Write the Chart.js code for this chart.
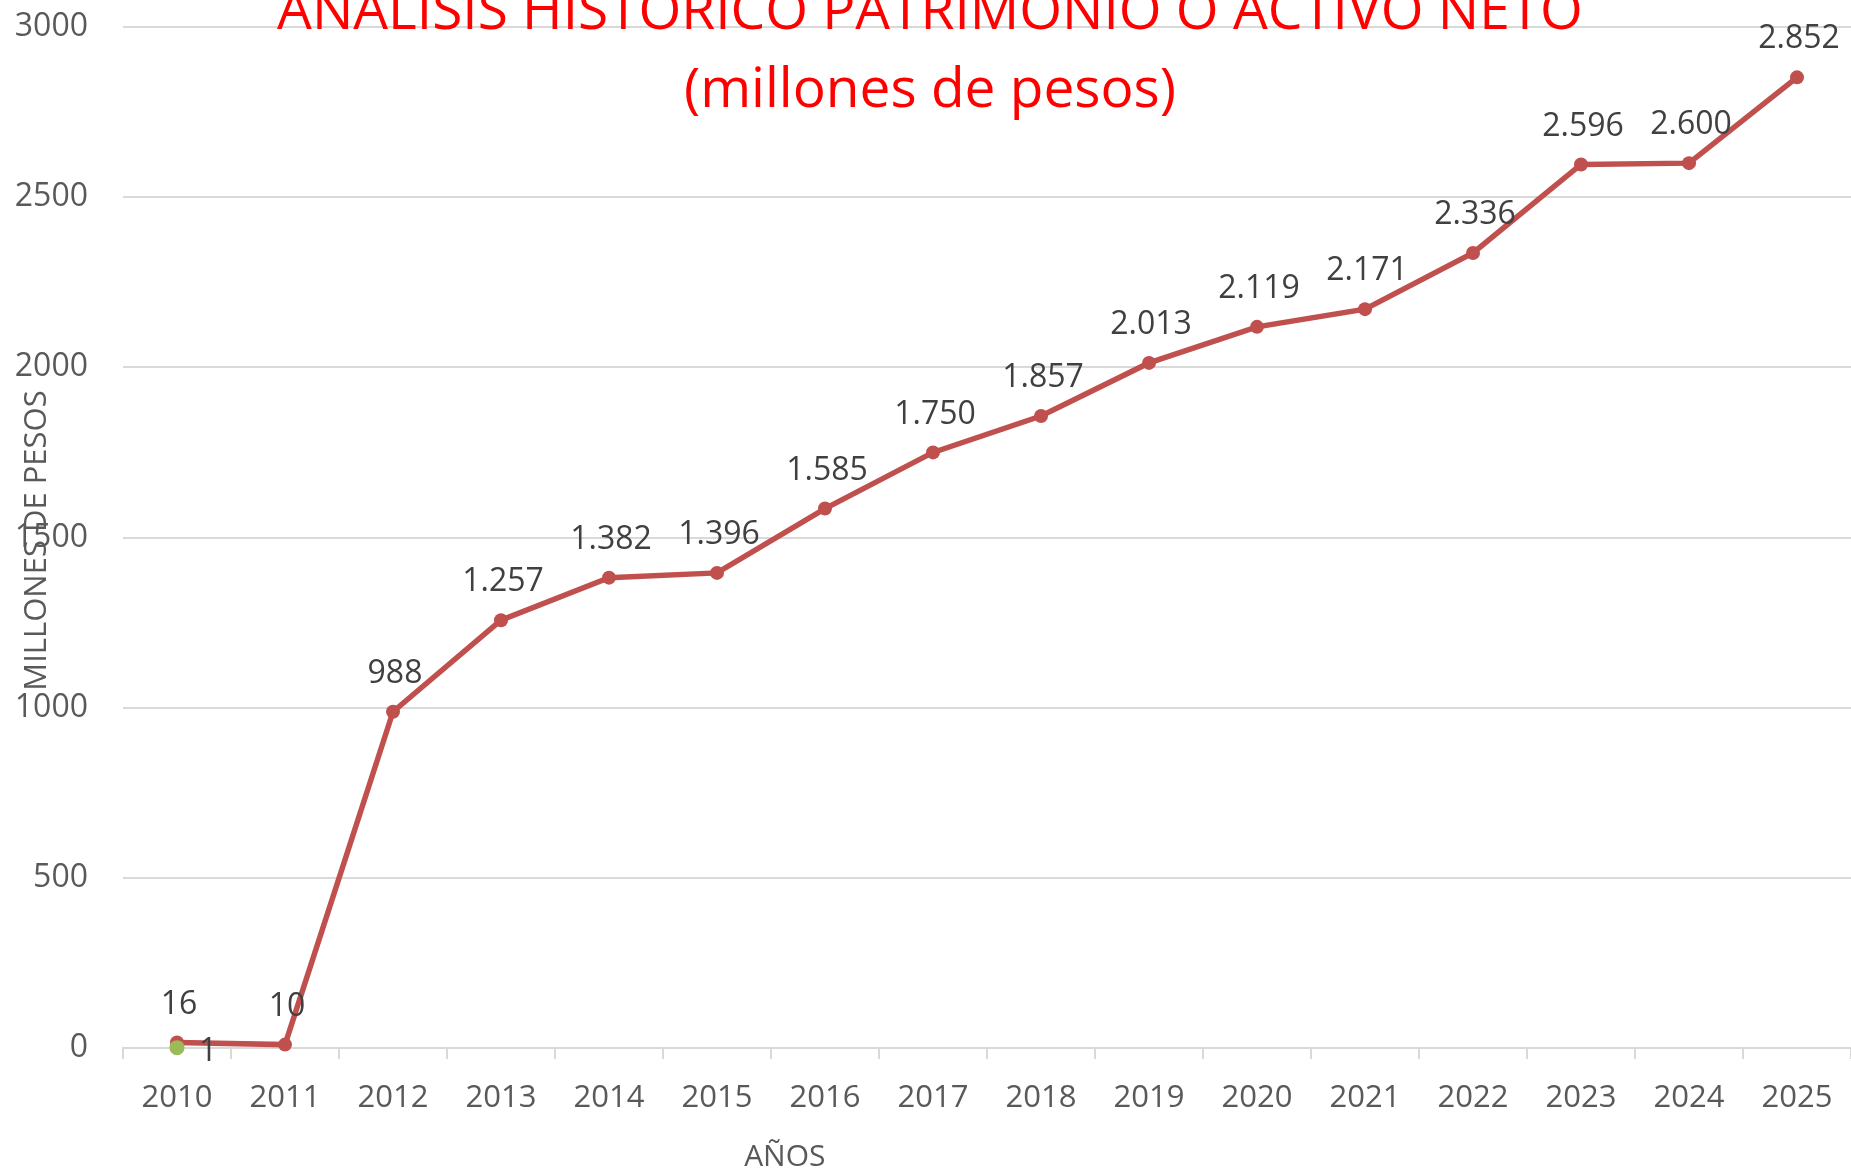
<!DOCTYPE html>
<html>
<head>
<meta charset="utf-8">
<script src="https://cdn.jsdelivr.net/npm/chart.js@4.4.1/dist/chart.umd.min.js"></script>
<style>
  html, body { margin: 0; padding: 0; background: #fff; overflow: hidden; }
  #wrap { width: 1851px; height: 1172px; position: relative; }
</style>
</head>
<body>
<div id="wrap"><canvas id="patrimonio-chart"></canvas></div>
<script>
// datos
const years = ['2010', '2011', '2012', '2013', '2014', '2015', '2016', '2017',
  '2018', '2019', '2020', '2021', '2022', '2023', '2024', '2025'];
const patrimonio = [16, 10, 988, 1257, 1382, 1396, 1585, 1750, 1857, 2013,
  2119, 2171, 2336, 2596, 2600, 2852];
const inicial = [1, null, null, null, null, null, null, null, null, null,
  null, null, null, null, null, null];
const yTicks = [0, 500, 1000, 1500, 2000, 2500, 3000];

const titleLines = ['ANALISIS HISTORICO PATRIMONIO O ACTIVO NETO', '(millones de pesos)'];
const xTitle = 'AÑOS';
const yTitle = 'MILLONES DE PESOS';

const FONT = "'Open Sans', 'Noto Sans', sans-serif";

// 2.852 style
function fmt(v) {
  return String(v).replace(/\B(?=(\d{3})+(?!\d))/g, '.');
}

// titulo, ejes y etiquetas de datos
const textPlugin = {
  id: 'textPlugin',
  afterDatasetsDraw(chart) {
    const ctx = chart.ctx;
    ctx.save();
    ctx.font = '32px ' + FONT;
    ctx.fillStyle = '#404040';
    // serie principal: encima del punto
    chart.getDatasetMeta(0).data.forEach((pt, i) => {
      ctx.textAlign = 'center';
      ctx.textBaseline = 'middle';
      ctx.fillText(fmt(patrimonio[i]), pt.x + 2, pt.y - 38);
    });
    // punto verde: a la derecha
    chart.getDatasetMeta(1).data.forEach((pt, i) => {
      if (inicial[i] == null) return;
      ctx.textAlign = 'left';
      ctx.textBaseline = 'middle';
      ctx.fillText(fmt(inicial[i]), pt.x + 22, pt.y + 4);
    });
    ctx.restore();
  },
  afterDraw(chart) {
    const ctx = chart.ctx;
    const area = chart.chartArea;
    ctx.save();
    // titulo (cortado arriba como en el original)
    ctx.font = '55px ' + FONT;
    ctx.fillStyle = '#FF0000';
    ctx.textAlign = 'center';
    ctx.textBaseline = 'alphabetic';
    ctx.fillText(titleLines[0], 930, area.top + 2);
    ctx.fillText(titleLines[1], 930, area.top + 80);

    ctx.font = '30px ' + FONT;
    ctx.fillStyle = '#595959';
    ctx.textBaseline = 'middle';
    ctx.fillText(xTitle, area.left + (area.right - area.left) * 0.383, 1157);

    ctx.translate(37, (area.top + area.bottom) / 2 + 3);
    ctx.rotate(-Math.PI / 2);
    ctx.font = '31px ' + FONT;
    ctx.fillText(yTitle, 0, 0);
    ctx.restore();
  }
};

const config = {
  type: 'line',
  data: {
    labels: years,
    datasets: [
      {
        label: 'Patrimonio',
        data: patrimonio,
        borderColor: '#C0504D',
        backgroundColor: '#C0504D',
        borderWidth: 5.5,
        tension: 0,
        pointRadius: 7,
        pointBorderWidth: 0,
        pointBackgroundColor: '#C0504D',
        clip: false,
        order: 2,
      },
      {
        label: 'Inicial',
        data: inicial,
        showLine: false,
        pointRadius: 7.5,
        pointBorderWidth: 0,
        pointBackgroundColor: '#9BBB59',
        borderColor: '#9BBB59',
        clip: false,
        order: 1,
      },
    ],
  },
  options: {
    responsive: true,
    maintainAspectRatio: false,
    animation: false,
    layout: {
      autoPadding: false,
      padding: { top: 27, right: 0, bottom: 0, left: 0 },
    },
    plugins: {
      legend: { display: false },
      tooltip: { enabled: false },
      title: { display: false },
    },
    scales: {
      x: {
        offset: true,
        afterFit(scale) {
          scale.height = 124;
          scale.paddingLeft = 0;
          scale.paddingRight = 0;
        },
        grid: {
          offset: true,
          drawOnChartArea: false,
          drawTicks: true,
          tickLength: 11,
          color: '#D9D9D9',
          lineWidth: 2,
        },
        border: { display: true, color: '#D9D9D9', width: 2 },
        ticks: {
          color: '#595959',
          font: { family: FONT, size: 31 },
          padding: 21,
          maxRotation: 0,
          autoSkip: false,
        },
      },
      y: {
        min: 0,
        max: 3000,
        afterFit(scale) {
          scale.width = 123;
          scale.paddingTop = 0;
          scale.paddingBottom = 0;
        },
        afterBuildTicks(scale) {
          scale.ticks = yTicks.map(v => ({ value: v }));
        },
        grid: {
          color: '#D9D9D9',
          lineWidth: 2,
          drawTicks: false,
        },
        border: { display: false },
        ticks: {
          color: '#595959',
          font: { family: FONT, size: 32 },
          padding: 35,
          callback: v => String(v),
        },
      },
    },
  },
  plugins: [textPlugin],
};

const patrimonioChart = new Chart(
  document.getElementById('patrimonio-chart'),
  config
);
</script>
</body>
</html>
